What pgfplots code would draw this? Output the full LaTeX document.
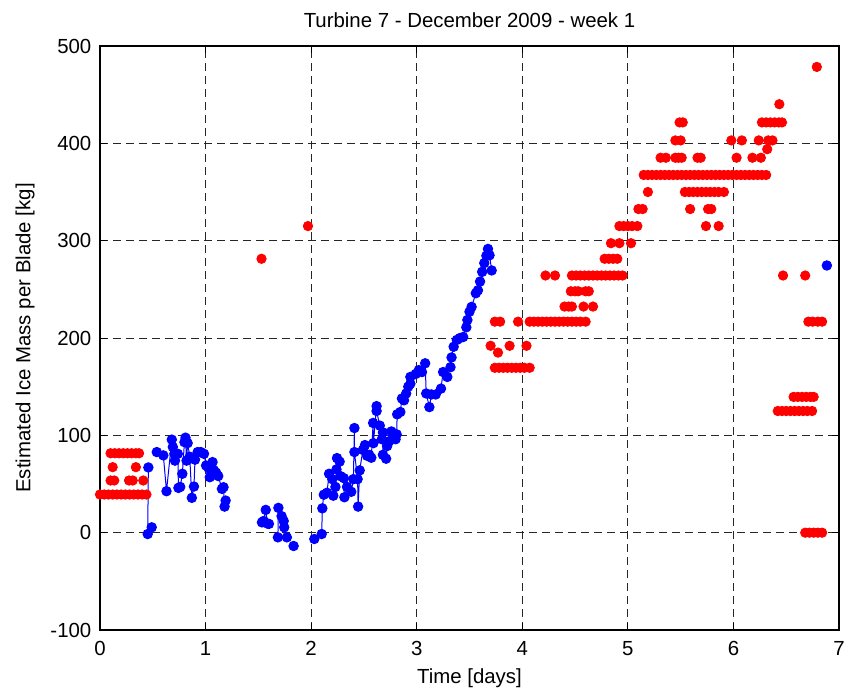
\documentclass[border=0pt]{standalone}
\usepackage{fontspec}
\setmainfont{Liberation Sans}
\usepackage{pgfplots}
\pgfplotsset{compat=1.18}
\pgfplotsset{every axis title/.style={at={(0.5,1.0313)}, anchor=base, inner sep=0pt}}
\begin{document}
\begin{tikzpicture}[font=\fontsize{10.2}{12.2}\selectfont]
\begin{axis}[
 scale only axis, width=369.5pt, height=292pt,
 xmin=0, xmax=7, ymin=-100, ymax=500,
 xtick={0,1,2,3,4,5,6,7}, ytick={-100,0,100,200,300,400,500},
 /pgf/number format/assume math mode=true,
 tick align=inside, major tick length=3.5pt,
 tick style={black, line width=0.5pt},
 axis line style={black, line width=0.8pt},
 grid=major, grid style={black!85, line width=0.5pt, dash pattern=on 4pt off 2.5pt},
 title={Turbine 7 - December 2009 - week 1},
 xlabel={Time [days]},
 xlabel style={at={(0.5,-0.0913)}, anchor=base, inner sep=0pt},
 ylabel={Estimated Ice Mass per Blade [kg]},
 ylabel style={at={(-0.1015,0.5)}, anchor=center, inner sep=0pt},
 xticklabel style={anchor=base, inner sep=0pt, yshift=-12.5pt},
 yticklabel style={anchor=east, inner sep=0pt, xshift=-4.15pt},
 clip=false,
 unbounded coords=jump,
]
% red: estimated ice mass (quantized levels)
\addplot[only marks, mark=*, mark size=2.35pt, color=red, mark options={draw=none, fill=red}]
 table[row sep=\\] {x y\\
0.00 39.2\\ 0.04 39.2\\ 0.08 39.2\\ 0.12 39.2\\ 0.16 39.2\\ 0.20 39.2\\ 0.24 39.2\\ 0.28 39.2\\ 0.32 39.2\\ 0.36 39.2\\ 0.40 39.2\\ 0.44 39.2\\
0.10 53.6\\ 0.135 53.6\\ 0.275 53.6\\ 0.31 53.6\\ 0.41 53.6\\
0.12 67.3\\ 0.34 67.3\\
0.10 81.6\\ 0.14 81.6\\ 0.18 81.6\\ 0.22 81.6\\ 0.26 81.6\\ 0.30 81.6\\ 0.34 81.6\\ 0.37 81.6\\
1.53 281.4\\ 1.97 315\\
3.74 169.4\\ 3.78 169.4\\ 3.82 169.4\\ 3.86 169.4\\ 3.90 169.4\\ 3.94 169.4\\ 3.98 169.4\\ 4.02 169.4\\ 4.07 169.4\\
3.77 185\\
3.70 192\\ 3.88 192\\ 4.04 192\\
3.74 216.8\\ 3.79 216.8\\ 3.96 216.8\\ 4.07 216.8\\ 4.11 216.8\\ 4.15 216.8\\ 4.19 216.8\\ 4.23 216.8\\ 4.27 216.8\\ 4.31 216.8\\ 4.35 216.8\\ 4.39 216.8\\ 4.43 216.8\\ 4.47 216.8\\ 4.51 216.8\\ 4.55 216.8\\ 4.60 216.8\\ 6.71 216.8\\ 6.75 216.8\\ 6.80 216.8\\ 6.84 216.8\\
4.40 232.3\\ 4.44 232.3\\ 4.47 232.3\\ 4.58 232.3\\ 4.67 232.3\\
4.46 248\\ 4.50 248\\ 4.53 248\\ 4.60 248\\ 4.63 248\\
4.22 264.2\\ 4.31 264.2\\ 4.47 264.2\\ 4.51 264.2\\ 4.55 264.2\\ 4.59 264.2\\ 4.63 264.2\\ 4.67 264.2\\ 4.71 264.2\\ 4.75 264.2\\ 4.79 264.2\\ 4.83 264.2\\ 4.87 264.2\\ 4.91 264.2\\ 4.95 264.2\\ 6.47 264.2\\ 6.68 264.2\\
4.78 281.4\\ 4.82 281.4\\ 4.86 281.4\\ 4.90 281.4\\
4.84 297.4\\ 4.92 297.4\\ 5.03 297.4\\
4.92 315\\ 4.96 315\\ 5.00 315\\ 5.04 315\\ 5.09 315\\ 5.74 315\\ 5.86 315\\
5.10 332.5\\ 5.14 332.5\\ 5.59 332.5\\ 5.76 332.5\\ 5.79 332.5\\
5.19 350\\ 5.54 350\\ 5.58 350\\ 5.62 350\\ 5.66 350\\ 5.70 350\\ 5.74 350\\ 5.78 350\\ 5.82 350\\ 5.86 350\\ 5.91 350\\
5.15 367.5\\ 5.19 367.5\\ 5.23 367.5\\ 5.27 367.5\\ 5.31 367.5\\ 5.35 367.5\\ 5.39 367.5\\ 5.43 367.5\\ 5.47 367.5\\ 5.51 367.5\\ 5.55 367.5\\ 5.59 367.5\\ 5.63 367.5\\ 5.67 367.5\\ 5.71 367.5\\ 5.75 367.5\\ 5.79 367.5\\ 5.83 367.5\\ 5.87 367.5\\ 5.91 367.5\\ 5.95 367.5\\ 5.99 367.5\\ 6.03 367.5\\ 6.07 367.5\\ 6.11 367.5\\ 6.15 367.5\\ 6.19 367.5\\ 6.23 367.5\\ 6.27 367.5\\ 6.31 367.5\\
5.31 385.2\\ 5.36 385.2\\ 5.45 385.2\\ 5.48 385.2\\ 5.51 385.2\\ 5.66 385.2\\ 5.69 385.2\\ 6.03 385.2\\ 6.18 385.2\\ 6.26 385.2\\
6.32 394\\
5.45 403\\ 5.50 403\\ 5.98 403\\ 6.08 403\\ 6.24 403\\ 6.33 403\\ 6.37 403\\
5.49 421.5\\ 5.52 421.5\\ 6.27 421.5\\ 6.31 421.5\\ 6.35 421.5\\ 6.39 421.5\\ 6.43 421.5\\ 6.46 421.5\\
6.435 440.2\\
6.79 478.5\\
6.57 139.5\\ 6.61 139.5\\ 6.65 139.5\\ 6.69 139.5\\ 6.73 139.5\\ 6.76 139.5\\
6.42 125\\ 6.46 125\\ 6.50 125\\ 6.54 125\\ 6.58 125\\ 6.62 125\\ 6.66 125\\ 6.70 125\\ 6.745 125\\
6.68 0\\ 6.72 0\\ 6.76 0\\ 6.80 0\\ 6.84 0\\
};
% blue series
\addplot[blue, line width=0.5pt, mark=*, mark size=2.35pt, mark options={draw=none, fill=blue}]
 table[row sep=\\] {x y\\
0.458 67\\ 0.452 -1.4\\ 0.49 5.5\\ 0.5 nan\\
0.538 82.8\\ 0.60 79.4\\ 0.63 42.6\\ 0.68 95.6\\ 0.69 88\\ 0.705 81\\ 0.71 74\\ 0.737 81\\ 0.743 46\\ 0.76 47\\ 0.78 60.5\\ 0.80 93\\ 0.81 97.6\\ 0.82 74\\ 0.83 92\\ 0.85 78\\ 0.87 35.8\\ 0.89 47.4\\ 0.90 75\\ 0.925 82.8\\ 0.955 82.8\\ 0.985 81\\ 1.005 69\\ 1.03 66\\ 1.04 57\\ 1.066 72.5\\ 1.08 64\\ 1.10 61.6\\ 1.12 58.2\\ 1.155 45\\ 1.17 46.7\\ 1.18 26.8\\ 1.19 33\\ 1.3 nan\\
1.534 10.6\\ 1.55 12\\ 1.57 23.4\\ 1.585 9.4\\ 1.60 9\\ 1.65 nan\\
1.685 -4.8\\ 1.69 25.5\\ 1.72 17\\ 1.74 12\\ 1.745 5.5\\ 1.77 -4.8\\ 1.8 nan\\
1.834 -13.7\\ 1.9 nan\\
2.03 -6.5\\ 2.10 -1.4\\ 2.106 25\\ 2.12 39\\ 2.15 41\\ 2.17 60.5\\ 2.20 55\\ 2.21 38\\ 2.23 47\\ 2.24 65\\ 2.245 76.6\\ 2.27 73\\ 2.28 58\\ 2.31 56\\ 2.315 36.4\\ 2.34 47\\ 2.38 42\\ 2.40 55\\ 2.41 107.5\\ 2.41 82.8\\ 2.44 55\\ 2.445 26.8\\ 2.46 64\\ 2.49 85\\ 2.51 90\\ 2.53 79\\ 2.55 80\\ 2.57 77\\ 2.587 112.7\\ 2.59 92\\ 2.62 130\\ 2.62 125\\ 2.65 110\\ 2.67 96\\ 2.68 103\\ 2.68 80\\ 2.71 76\\ 2.72 89\\ 2.74 94\\ 2.76 104\\ 2.78 99\\ 2.80 96\\ 2.81 101\\ 2.815 121.6\\ 2.845 124\\ 2.86 137.8\\ 2.88 136\\ 2.90 143\\ 2.92 150\\ 2.94 153\\ 2.94 160\\ 2.99 163\\ 3.02 167\\ 3.05 165\\ 3.08 174\\ 3.09 143\\ 3.12 129\\ 3.14 142\\ 3.18 142\\ 3.23 148\\ 3.25 165\\ 3.29 160\\ 3.32 170\\ 3.33 180\\ 3.35 191\\ 3.38 198\\ 3.41 200\\ 3.44 201\\ 3.47 211\\ 3.48 218.5\\ 3.50 227\\ 3.52 232\\ 3.56 246\\ 3.58 249\\ 3.60 258\\ 3.62 268\\ 3.64 277\\ 3.66 284.5\\ 3.675 291.5\\ 3.69 285\\ 3.71 269.4\\ 4.0 nan\\
6.885 274.5\\
};
\coordinate (BL) at (rel axis cs:0,0);
\coordinate (TR) at (rel axis cs:1,1);
\end{axis}
\pgfresetboundingbox
\path[use as bounding box] ([xshift=-50pt,yshift=-30.5pt]BL) rectangle ([xshift=2.5pt,yshift=23pt]TR);
\end{tikzpicture}
\end{document}
